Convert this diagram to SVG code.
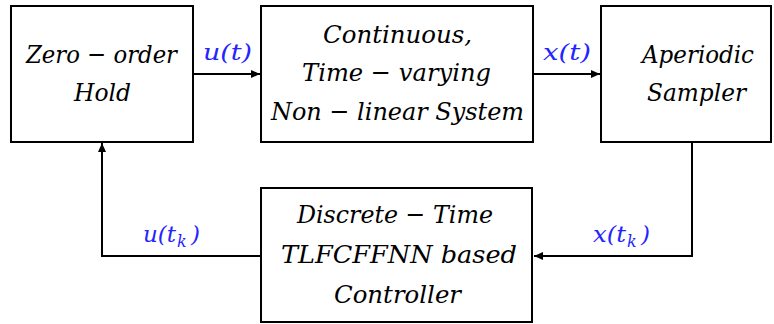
<svg xmlns="http://www.w3.org/2000/svg" width="774" height="324" viewBox="0 0 774 324">
<style>
.box{fill:#fff;stroke:#000;stroke-width:2}
.c{fill:none;stroke:#000;stroke-width:2}
.t{font-family:'DejaVu Serif','Liberation Serif',serif;font-style:italic;font-size:25px;fill:#000;text-anchor:middle}
.l{font-family:'DejaVu Serif','Liberation Serif',serif;font-style:italic;font-size:23px;fill:#2424ff}
.s{font-size:16px}
</style>
<defs>
<marker id="ah" markerUnits="userSpaceOnUse" markerWidth="10" markerHeight="8" refX="9" refY="4" orient="auto">
<path d="M0,0 L9,4 L0,8 Z" fill="#000"/>
</marker>
</defs>
<rect width="774" height="324" fill="#fff"/>
<g id="connectors">
<line class="c" x1="193" y1="74" x2="260" y2="74" marker-end="url(#ah)"/>
<line class="c" x1="533" y1="74" x2="600" y2="74" marker-end="url(#ah)"/>
<path class="c" d="M692,142 V256 H534" marker-end="url(#ah)"/>
<path class="c" d="M261,256 H102 V143" marker-end="url(#ah)"/>
</g>
<g id="labels">
<text class="l" x="203" y="60" textLength="49" lengthAdjust="spacingAndGlyphs">u(t)</text>
<text class="l" x="543" y="60" textLength="48" lengthAdjust="spacingAndGlyphs">x(t)</text>
<text class="l" x="143" y="242" textLength="33" lengthAdjust="spacingAndGlyphs">u(t</text>
<text class="l s" x="177" y="247">k</text>
<text class="l" x="191" y="242">)</text>
<text class="l" x="593" y="242" textLength="33" lengthAdjust="spacingAndGlyphs">x(t</text>
<text class="l s" x="627" y="247">k</text>
<text class="l" x="641" y="242">)</text>
</g>
<g id="zoh">
<rect class="box" x="11" y="6" width="182" height="136"/>
<text class="t" x="101.5" y="63" textLength="151" lengthAdjust="spacingAndGlyphs">Zero − order</text>
<text class="t" x="102.5" y="101" textLength="57" lengthAdjust="spacingAndGlyphs">Hold</text>
</g>
<g id="system">
<rect class="box" x="261" y="6" width="272" height="136"/>
<text class="t" x="397.5" y="43" textLength="149" lengthAdjust="spacingAndGlyphs">Continuous,</text>
<text class="t" x="396.5" y="81" textLength="189" lengthAdjust="spacingAndGlyphs">Time − varying</text>
<text class="t" x="397.5" y="120" textLength="253" lengthAdjust="spacingAndGlyphs">Non − linear System</text>
</g>
<g id="sampler">
<rect class="box" x="601" y="6" width="170" height="136"/>
<text class="t" x="698" y="63" textLength="112" lengthAdjust="spacingAndGlyphs">Aperiodic</text>
<text class="t" x="696.5" y="101" textLength="99" lengthAdjust="spacingAndGlyphs">Sampler</text>
</g>
<g id="controller">
<rect class="box" x="261" y="188" width="271" height="134"/>
<text class="t" x="395" y="223" textLength="196" lengthAdjust="spacingAndGlyphs">Discrete − Time</text>
<text class="t" x="399" y="263" textLength="236" lengthAdjust="spacingAndGlyphs">TLFCFFNN based</text>
<text class="t" x="397.5" y="303" textLength="127" lengthAdjust="spacingAndGlyphs">Controller</text>
</g>
</svg>
